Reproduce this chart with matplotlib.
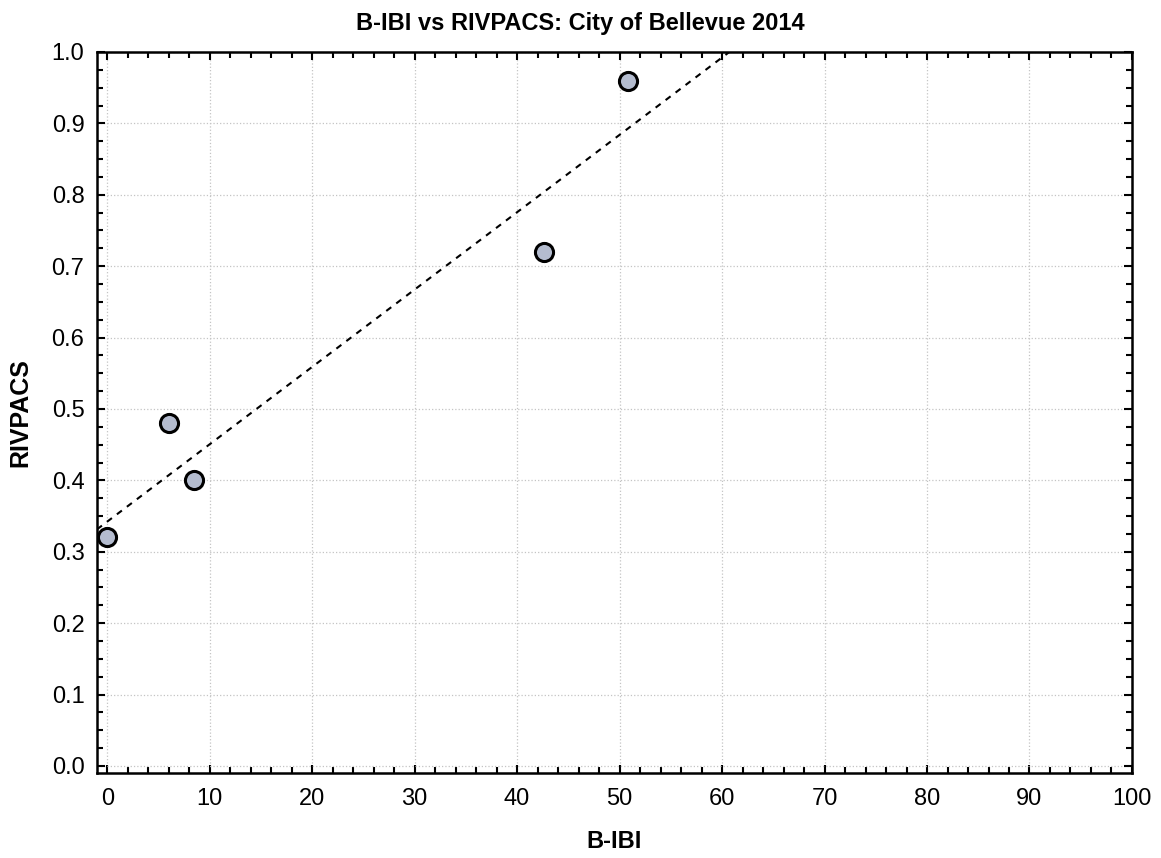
import numpy as np
import matplotlib.pyplot as plt
from matplotlib.ticker import MultipleLocator

plt.rcParams['font.family'] = ['Liberation Sans', 'DejaVu Sans']

# site scores
bibi = [0.0, 6.0, 8.5, 42.6, 50.8]
rivpacs = [0.32, 0.48, 0.40, 0.72, 0.96]

# least squares line through the points
slope, intercept = np.polyfit(bibi, rivpacs, 1)
xline = np.linspace(-1, 100, 200)
yline = intercept + slope * xline

fig = plt.figure(figsize=(11.61, 8.58), dpi=100)
ax = fig.add_axes([0.0835, 0.099, 0.8915, 0.8404])

ax.plot(xline, yline, color='black', linestyle=(0, (3, 3)), linewidth=1.5, zorder=2)
ax.scatter(bibi, rivpacs, s=170, facecolor='#b4bccf', edgecolor='black', linewidth=2.2, zorder=3)

ax.set_xlim(-1, 100)
ax.set_ylim(-0.01, 1.0)
ax.xaxis.set_major_locator(MultipleLocator(10))
ax.xaxis.set_minor_locator(MultipleLocator(2))
ax.yaxis.set_major_locator(MultipleLocator(0.1))
ax.yaxis.set_minor_locator(MultipleLocator(0.025))
ax.yaxis.set_major_formatter(plt.FormatStrFormatter('%.1f'))

ax.tick_params(which='both', direction='in', top=True, right=True, labelsize=17, width=1.5)
ax.tick_params(which='major', length=6)
ax.tick_params(which='minor', length=4)
ax.tick_params(axis='x', which='major', pad=11)
ax.tick_params(axis='y', which='major', pad=9)
for sp in ax.spines.values():
    sp.set_linewidth(1.8)

ax.grid(True, which='major', color='#c4c4c4', linestyle=':', linewidth=0.9)
ax.set_axisbelow(True)

# title is centred on the figure, not the axes
fig.text(0.5, 0.965, 'B-IBI vs RIVPACS: City of Bellevue 2014', fontsize=17,
         fontweight='bold', ha='center', va='baseline')
ax.set_xlabel('B-IBI', fontsize=17, fontweight='bold', labelpad=14)
ax.set_ylabel('RIVPACS', fontsize=18, fontweight='bold', labelpad=14)

fig.savefig('out.png', dpi=100)
